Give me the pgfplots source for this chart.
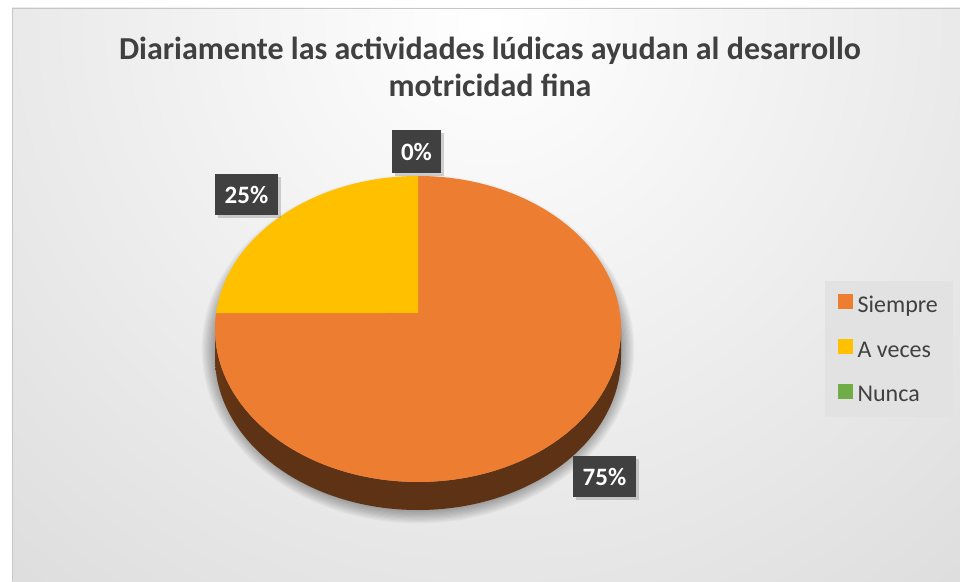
\documentclass[border=0pt]{standalone}
\usepackage{pgfplots}
\pgfplotsset{compat=1.18}
\usepackage{pgfplotstable}
\usetikzlibrary{shadows}
\usepackage{fontspec}
\setmainfont{Carlito}
\definecolor{cSiempre}{HTML}{ED7D31}
\definecolor{cAveces}{HTML}{FFC000}
\definecolor{cNunca}{HTML}{70AD47}
\definecolor{txt}{HTML}{404040}
\definecolor{lbl}{HTML}{404040}
\definecolor{bgout}{HTML}{C4C4C4}
\definecolor{legbg}{HTML}{E2E2E2}
\definecolor{sideL}{HTML}{B8621F}
\definecolor{sideD}{HTML}{5E3214}
\pgfdeclarehorizontalshading{pieside}{100bp}{color(0bp)=(sideL); color(28bp)=(sideD); color(100bp)=(sideD)}

\pgfplotstableread{
Value
75
25
0
}\piedata

% parameter angle on the top-face ellipse hit by a ray from the (perspective) pie vertex
\newcommand\rayparam[2]{%
  \pgfmathsetmacro\rc{cos(#1)}%
  \pgfmathsetmacro\rs{sin(#1)}%
  \pgfmathsetmacro\qA{(\rc/2.03)^2+(\rs/1.53)^2}%
  \pgfmathsetmacro\qB{2*0.16*\rs/(1.53^2)}%
  \pgfmathsetmacro\qC{(0.16/1.53)^2-1}%
  \pgfmathsetmacro\qt{(-\qB+sqrt(\qB^2-4*\qA*\qC))/(2*\qA)}%
  \pgfmathsetmacro\rtmp{atan2((0.16+\qt*\rs)/1.53,\qt*\rc/2.03)}%
  \pgfmathsetmacro#2{\rtmp+360*round((#1-\rtmp)/360)}%
}

\begin{document}%
\begin{tikzpicture}
\pgfplotstablegetelem{0}{Value}\of\piedata \global\let\vA\pgfplotsretval
\pgfplotstablegetelem{1}{Value}\of\piedata \global\let\vB\pgfplotsretval
\pgfplotstablegetelem{2}{Value}\of\piedata \global\let\vC\pgfplotsretval
\pgfmathsetmacro\phA{90}
\pgfmathsetmacro\phB{90-3.6*\vA}
\pgfmathsetmacro\phC{\phB-3.6*\vB}
\pgfmathsetmacro\phD{\phC-3.6*\vC}
\rayparam{\phA}\thA \global\let\thA\thA
\rayparam{\phB}\thB \global\let\thB\thB
\rayparam{\phC}\thC \global\let\thC\thC
\rayparam{\phD}\thD \global\let\thD\thD
\begin{scope}[x=1pt,y=1pt]
  \fill[white] (0,0) rectangle (960,581);
  \begin{scope}
    \clip (12,0) rectangle (960,573);
    \shade[inner color=white, outer color=bgout] (490,560) circle[radius=1300];
  \end{scope}
  \draw[gray!45, line width=0.8pt] (12,0) -- (12,573) -- (960,573);
  \foreach \k in {1,...,12}
    \fill[black, opacity=0.03] (418,232) ellipse [x radius={202+1.2*\k}, y radius={160+1.2*\k}];
  \fill[legbg] (825,300) rectangle (953,164);
\end{scope}
\begin{axis}[x=1pt,y=1pt,xmin=0,xmax=960,ymin=0,ymax=581,
  at={(0pt,0pt)},anchor=origin,
  scale only axis,hide axis,clip=false,
  legend cell align=left,
  legend style={at={(axis cs:838,287)},anchor=north west,draw=none,fill=none,
    font=\fontsize{24}{29}\selectfont,text=txt,inner sep=0pt,
    row sep=20.5pt,column sep=5pt,
    nodes={inner sep=0pt,text height=16pt,text depth=6pt}}]
\addlegendimage{legend image code/.code={\fill[cSiempre] (0pt,-1pt) rectangle (14pt,13pt);}}
\addlegendentry{Siempre}
\addlegendimage{legend image code/.code={\fill[cAveces] (0pt,-1pt) rectangle (14pt,13pt);}}
\addlegendentry{A veces}
\addlegendimage{legend image code/.code={\fill[cNunca] (0pt,-1pt) rectangle (14pt,13pt);}}
\addlegendentry{Nunca}
% side of the pie
\shade[shading=pieside] (215,252) arc[start angle=180,end angle=360,x radius=203pt,y radius=153pt]
   -- (621,224) arc[start angle=0,end angle=-180,x radius=203pt,y radius=153pt] -- cycle;
% top face slices
\fill[cSiempre] (418,268) -- ({418+203*cos(\thA)},{252+153*sin(\thA)})
   arc[start angle=\thA,end angle=\thB,x radius=203pt,y radius=153pt] -- cycle;
\fill[cAveces] (418,268) -- ({418+203*cos(\thB)},{252+153*sin(\thB)})
   arc[start angle=\thB,end angle=\thC,x radius=203pt,y radius=153pt] -- cycle;
% labels
\tikzset{lblbox/.style={fill=lbl,text=white,font=\bfseries\fontsize{25}{30}\selectfont,inner sep=0pt,
   drop shadow={shadow xshift=3pt,shadow yshift=-3pt,opacity=0.35}}}
\node[lblbox,minimum width=49pt,minimum height=43pt] at (416.5,429.5) {\vC\%};
\node[lblbox,minimum width=63pt,minimum height=41pt] at (246.5,386.5) {\vB\%};
\node[lblbox,minimum width=63pt,minimum height=41pt] at (604.5,104.5) {\vA\%};
% title
\node[anchor=base,font=\bfseries\fontsize{32}{38}\selectfont,text=txt] at (490,521) {Diariamente las actividades lúdicas ayudan al desarrollo};
\node[anchor=base,font=\bfseries\fontsize{32}{38}\selectfont,text=txt] at (490,484) {motricidad fina};
\end{axis}
\pgfresetboundingbox
\path (0pt,0pt) rectangle (960pt,581pt);
\end{tikzpicture}%
\end{document}
